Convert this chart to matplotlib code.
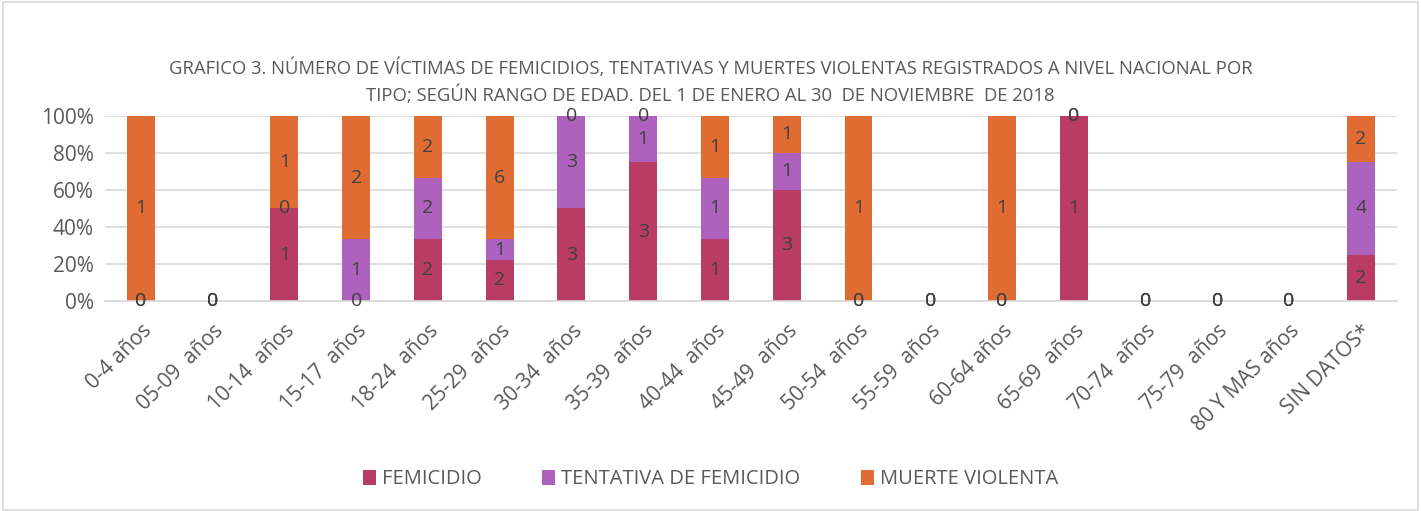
import matplotlib
matplotlib.use("Agg")
import matplotlib.pyplot as plt
from matplotlib.patches import Rectangle
import numpy as np

categories = ["0-4 años", "05-09  años", "10-14  años", "15-17  años", "18-24  años",
              "25-29  años", "30-34  años", "35-39  años", "40-44  años", "45-49  años",
              "50-54  años", "55-59  años", "60-64 años", "65-69  años", "70-74  años",
              "75-79  años", "80 Y MAS años", "SIN DATOS*"]
femicidio = [0, 0, 1, 0, 2, 2, 3, 3, 1, 3, 0, 0, 0, 1, 0, 0, 0, 2]
tentativa = [0, 0, 0, 1, 2, 1, 3, 1, 1, 1, 0, 0, 0, 0, 0, 0, 0, 4]
muerte    = [1, 0, 1, 2, 2, 6, 0, 0, 1, 1, 1, 0, 1, 0, 0, 0, 0, 2]

series = [("FEMICIDIO", femicidio, "#B83C64"),
          ("TENTATIVA DE FEMICIDIO", tentativa, "#AD62BD"),
          ("MUERTE VIOLENTA", muerte, "#E06C34")]

plt.rcParams["font.family"] = ["Open Sans", "DejaVu Sans"]
TXT = "#595959"

fig = plt.figure(figsize=(14.21, 5.11), dpi=100)
fig.patches.append(Rectangle((0.002, 0.002), 0.996, 0.994, transform=fig.transFigure,
                             fill=False, edgecolor="#D9D9D9", lw=1.2))
ax = fig.add_axes([0.0739, 0.411, 0.909, 0.362])

x = np.arange(len(categories))
totals = np.array(femicidio) + np.array(tentativa) + np.array(muerte)
safe = np.where(totals == 0, 1, totals)

bottom = np.zeros(len(categories))
for name, vals, col in series:
    v = np.array(vals, dtype=float)
    pct = v / safe * 100
    ax.bar(x, pct, bottom=bottom, width=0.39, color=col, label=name, zorder=2)
    for xi, b, p, val in zip(x, bottom, pct, vals):
        ax.text(xi, b + p / 2, str(val), ha="center", va="center",
                fontsize=14, color="#404040", zorder=3)
    bottom += pct

ax.set_xlim(-0.5, len(categories) - 0.5)
ax.set_ylim(0, 100)
ax.set_yticks(np.arange(0, 101, 20))
ax.set_yticklabels([f"{t}%" for t in range(0, 101, 20)], fontsize=15, color=TXT)
ax.yaxis.grid(True, color="#D9D9D9", lw=1.2, zorder=0)
ax.set_axisbelow(True)
for s in ("top", "right", "left"):
    ax.spines[s].set_visible(False)
ax.spines["bottom"].set_color("#D9D9D9")
ax.spines["bottom"].set_linewidth(1.2)
ax.tick_params(length=0, pad=8)
ax.set_xticks(x)
ax.set_xticklabels(categories, rotation=45, ha="right", rotation_mode="anchor",
                   fontsize=15, color=TXT)
ax.tick_params(axis="x", pad=14)

fig.text(0.5, 0.866, "GRAFICO 3. NÚMERO DE VÍCTIMAS DE FEMICIDIOS, TENTATIVAS Y MUERTES VIOLENTAS REGISTRADOS A NIVEL NACIONAL POR",
         ha="center", va="center", fontsize=13.3, color=TXT)
fig.text(0.5, 0.814, "TIPO; SEGÚN RANGO DE EDAD. DEL 1 DE ENERO AL 30  DE NOVIEMBRE  DE 2018",
         ha="center", va="center", fontsize=13.3, color=TXT)

fig.legend(loc="center", bbox_to_anchor=(0.5, 0.062), ncol=3, frameon=False,
           fontsize=14.5, labelcolor=TXT, handlelength=0.65, handleheight=0.8,
           handletextpad=0.3, columnspacing=3.0)

fig.savefig("out.png", dpi=100)
